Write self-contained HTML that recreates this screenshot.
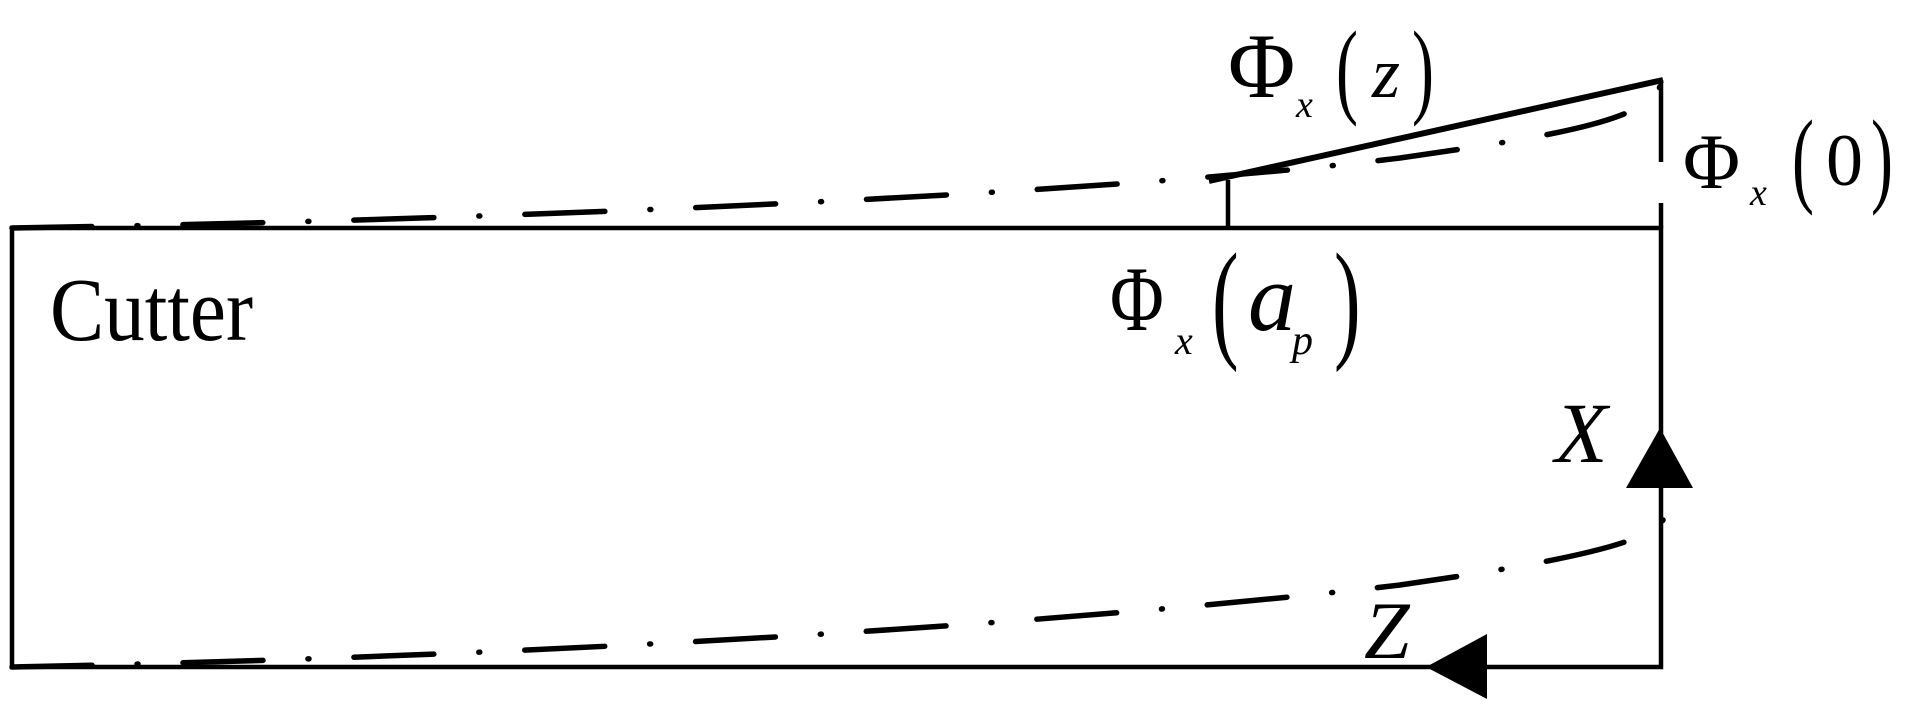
<!DOCTYPE html>
<html><head><meta charset="utf-8"><style>
html,body{margin:0;padding:0;background:#fff;}
svg{display:block;}
text{font-family:"Liberation Serif",serif;fill:#000;}
</style></head><body>
<svg width="1916" height="719" viewBox="0 0 1916 719" xmlns="http://www.w3.org/2000/svg">
<g stroke="#000" fill="none" stroke-width="4.5">
  <path d="M12,228 H1661 V667 H12 Z"/>
  <line x1="1661" y1="80" x2="1661" y2="162"/>
  <line x1="1661" y1="203" x2="1661" y2="228"/>
  <line x1="1228" y1="180" x2="1228" y2="228"/>
  <line x1="1209" y1="181" x2="1663" y2="80" stroke-width="6"/>
</g>
<g stroke="#000" fill="none" stroke-width="5.5" stroke-linecap="round" stroke-dasharray="80 45 1 45">
  <path d="M12,228 C500,220 1100,195 1400,158 C1560,135 1655,120 1662,80"/>
  <path d="M12,667 C600,655 1100,620 1400,585 C1540,565 1650,545 1663,520"/>
</g>
<polygon points="1660,428 1626,488 1693,488" fill="#000"/>
<polygon points="1426,667 1487,634 1487,699" fill="#000"/>

<text x="50" y="340" font-size="90" textLength="203" lengthAdjust="spacingAndGlyphs">Cutter</text>

<!-- Phi_x(z) -->
<text x="1228" y="97" font-size="92">Φ</text>
<text x="1296" y="117" font-size="38" font-style="italic">x</text>
<text transform="translate(1336,104) scale(1,1.6)" font-size="66">(</text>
<text x="1372" y="97" font-size="72" font-style="italic">z</text>
<text transform="translate(1412,104) scale(1,1.6)" font-size="66">)</text>

<!-- Phi_x(0) -->
<text x="1683" y="188" font-size="78">Φ</text>
<text x="1750" y="205" font-size="38" font-style="italic">x</text>
<text transform="translate(1792,193) scale(1,1.6)" font-size="66">(</text>
<text x="1826" y="185" font-size="74">0</text>
<text transform="translate(1871,193) scale(1,1.6)" font-size="66">)</text>

<!-- Phi_x(a_p) -->
<text transform="translate(1110,330) scale(0.8,1)" font-size="92">Φ</text>
<text x="1175" y="354" font-size="40" font-style="italic">x</text>
<text transform="translate(1212,344) scale(1,1.65)" font-size="80">(</text>
<text x="1248" y="330" font-size="96" font-style="italic">a</text>
<text x="1292" y="354" font-size="42" font-style="italic">p</text>
<text transform="translate(1334,344) scale(1,1.65)" font-size="80">)</text>

<text x="1555" y="462" font-size="86" font-style="italic">X</text>
<text x="1364" y="658" font-size="82" font-style="italic">Z</text>
</svg>
</body></html>
